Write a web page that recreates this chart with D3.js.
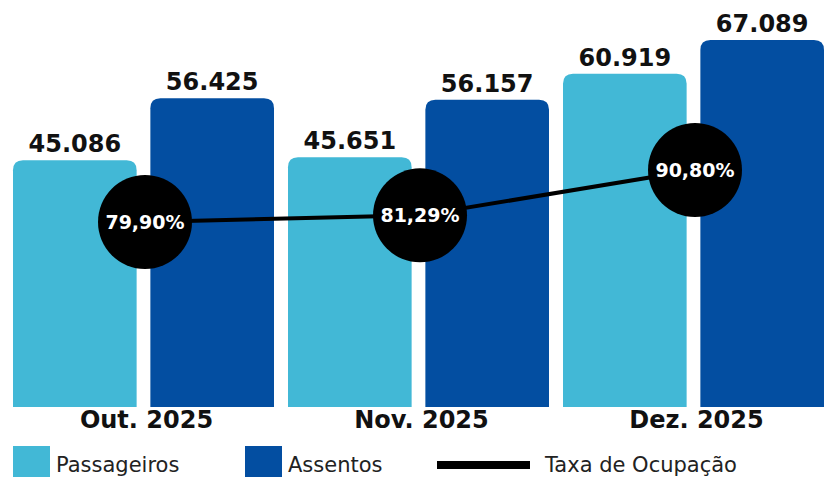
<!DOCTYPE html>
<html>
<head>
<meta charset="utf-8">
<script src="https://cdn.jsdelivr.net/npm/d3@7"></script>
<style>
  body { margin: 0; background: #fff; }
  svg { display: block; }
</style>
</head>
<body>
<div id="chart"></div>
<script>
// data
var months = ["Out. 2025", "Nov. 2025", "Dez. 2025"];
var passageiros = [45086, 45651, 60919];
var assentos = [56425, 56157, 67089];
var taxa = [79.90, 81.29, 90.80];

var width = 832, height = 477;
var lightBlue = "#42B8D6", darkBlue = "#034EA1";
var boldFont = "'DejaVu Sans', sans-serif";

var svg = d3.select("#chart").append("svg")
    .attr("width", width)
    .attr("height", height);

var x0 = d3.scaleBand()
    .domain(months)
    .range([13, 838])
    .paddingInner(0)
    .paddingOuter(0);

var x1 = d3.scaleBand()
    .domain(["p", "a"])
    .range([0, 261])
    .paddingInner(0.1)
    .paddingOuter(0);

var y = d3.scaleLinear()
    .domain([0, d3.max(assentos)])
    .range([407, 40]);

// line scale for occupancy
var yRate = d3.scaleLinear()
    .domain(d3.extent(taxa))
    .range([222, 170]);

function topRounded(x, yTop, w, yBottom, r) {
    return "M" + x + "," + yBottom +
        "V" + (yTop + r) +
        "Q" + x + "," + yTop + " " + (x + r) + "," + yTop +
        "H" + (x + w - r) +
        "Q" + (x + w) + "," + yTop + " " + (x + w) + "," + (yTop + r) +
        "V" + yBottom + "Z";
}

var rows = months.map(function(m, i) {
    return { month: m, p: passageiros[i], a: assentos[i], rate: taxa[i] };
});

var groups = svg.selectAll("g.group")
    .data(rows)
    .enter().append("g")
    .attr("class", "group")
    .attr("transform", function(d) { return "translate(" + x0(d.month) + ",0)"; });

var keys = [{ k: "p", color: lightBlue }, { k: "a", color: darkBlue }];

keys.forEach(function(s) {
    groups.append("path")
        .attr("d", function(d) {
            return topRounded(x1(s.k), y(d[s.k]), x1.bandwidth(), y(0), 10);
        })
        .attr("fill", s.color);

    groups.append("text")
        .attr("x", x1(s.k) + x1.bandwidth() / 2)
        .attr("y", function(d) { return y(d[s.k]) - 8; })
        .attr("text-anchor", "middle")
        .style("font-family", boldFont)
        .style("font-weight", "bold")
        .style("font-size", "24px")
        .attr("fill", "#111")
        .text(function(d) { return d3.format(",")(d[s.k]).replace(/,/g, "."); });
});

// month labels
groups.append("text")
    .attr("x", x1.range()[1] / 2 + 3)
    .attr("y", 428)
    .attr("text-anchor", "middle")
    .style("font-family", boldFont)
    .style("font-weight", "bold")
    .style("font-size", "24px")
    .attr("fill", "#111")
    .text(function(d) { return d.month; });

// occupancy line
var cx = function(d) { return x0(d.month) + 132; };

svg.append("path")
    .datum(rows)
    .attr("fill", "none")
    .attr("stroke", "#000")
    .attr("stroke-width", 4)
    .attr("d", d3.line()
        .x(cx)
        .y(function(d) { return yRate(d.rate); }));

svg.selectAll("circle.rate")
    .data(rows)
    .enter().append("circle")
    .attr("class", "rate")
    .attr("cx", cx)
    .attr("cy", function(d) { return yRate(d.rate); })
    .attr("r", 47)
    .attr("fill", "#000");

svg.selectAll("text.rate")
    .data(rows)
    .enter().append("text")
    .attr("class", "rate")
    .attr("x", cx)
    .attr("y", function(d) { return yRate(d.rate) + 7; })
    .attr("text-anchor", "middle")
    .style("font-family", boldFont)
    .style("font-weight", "bold")
    .style("font-size", "19px")
    .attr("fill", "#fff")
    .text(function(d) { return d.rate.toFixed(2).replace(".", ",") + "%"; });

// legend
var legend = svg.append("g").attr("class", "legend");
var legendItems = [
    { label: "Passageiros", color: lightBlue, type: "rect", x: 13 },
    { label: "Assentos", color: darkBlue, type: "rect", x: 245 },
    { label: "Taxa de Ocupação", color: "#000", type: "line", x: 437 }
];

legendItems.forEach(function(item) {
    var g = legend.append("g").attr("transform", "translate(" + item.x + ",0)");
    var textX;
    if (item.type === "rect") {
        g.append("rect")
            .attr("x", 0).attr("y", 446)
            .attr("width", 37).attr("height", 31)
            .attr("fill", item.color);
        textX = 43;
    } else {
        g.append("rect")
            .attr("x", 0).attr("y", 461)
            .attr("width", 93).attr("height", 8)
            .attr("fill", item.color);
        textX = 108;
    }
    g.append("text")
        .attr("x", textX)
        .attr("y", 472)
        .style("font-family", "'DejaVu Sans', sans-serif")
        .style("font-size", "21px")
        .attr("fill", "#222")
        .text(item.label);
});
</script>
</body>
</html>
